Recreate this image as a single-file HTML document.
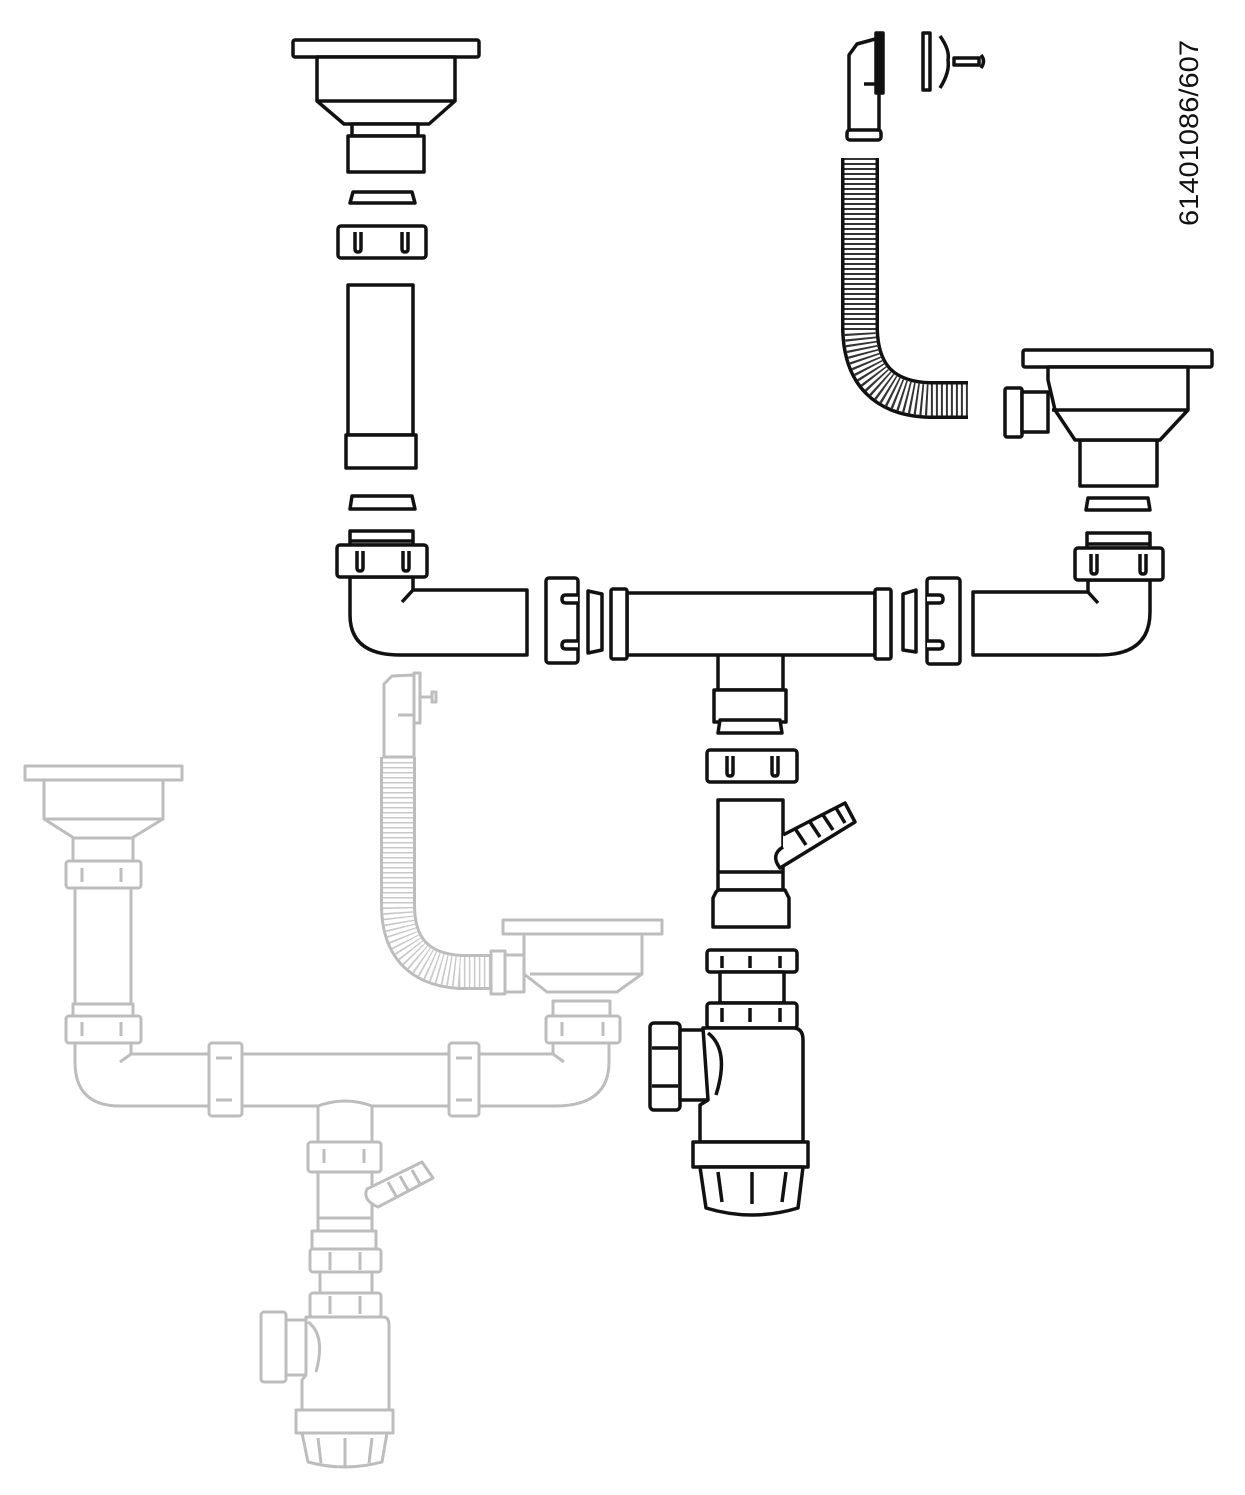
<!DOCTYPE html>
<html><head><meta charset="utf-8"><style>
html,body{margin:0;padding:0;background:#fff;}
svg{display:block;}
</style></head><body>
<svg width="1245" height="1495" viewBox="0 0 1245 1495" xmlns="http://www.w3.org/2000/svg">
<rect width="1245" height="1495" fill="#fff"/>

<!-- ===================== GHOST (gray assembled) ===================== -->
<g fill="#fff" stroke="#bdbdbd" stroke-width="3" stroke-linejoin="round">
  <path d="M398 757 L398 905 Q398 968 460 972 L492 972" fill="none" stroke="#bdbdbd" stroke-width="36"/>
  <path d="M398 757 L398 905 Q398 968 460 972 L492 972" fill="none" stroke="#fff" stroke-width="30"/>
  <path d="M398 757 L398 905 Q398 968 460 972 L492 972" fill="none" stroke="#c8c8c8" stroke-width="30" stroke-dasharray="1.5 3.5"/>
  <path d="M384 757 L384 684 L392 676 L414 675 L414 757 Z"/>
  <rect x="414" y="673" width="6" height="50"/>
  <line x1="420" y1="697" x2="433" y2="697"/>
  <rect x="432" y="692" width="4" height="10"/>
  <line x1="398" y1="715" x2="414" y2="715"/>

  <rect x="25" y="766" width="157" height="14"/>
  <path d="M44 780 L44 819 L74 838 L132 838 L163 819 L163 780 Z"/>
  <line x1="44" y1="819" x2="163" y2="819"/>
  <rect x="73" y="838" width="60" height="23"/>
  <rect x="66" y="861" width="75" height="27" rx="3"/>
  <path d="M82 868 v14 M121 868 v14"/>
  <rect x="75" y="888" width="56" height="116"/>
  <rect x="73" y="1004" width="60" height="12"/>
  <rect x="66" y="1016" width="75" height="27" rx="3"/>
  <path d="M82 1022 v14 M121 1022 v14"/>

  <path d="M75 1043 L75 1062 Q75 1106 120 1106 L555 1106 Q609 1106 609 1062 L609 1043 L553 1043 L553 1054 L131 1054 L131 1043 Z"/>
  <line x1="131" y1="1054" x2="120" y2="1062"/>
  <line x1="553" y1="1054" x2="564" y2="1062"/>
  <rect x="209" y="1043" width="33" height="73" rx="3"/>
  <path d="M216 1058 h16 M216 1100 h16"/>
  <rect x="449" y="1043" width="30" height="73" rx="3"/>
  <path d="M456 1058 h16 M456 1100 h16"/>

  <rect x="491" y="951" width="14" height="43"/>
  <path d="M505 955 L524 955 L524 992 L505 992 Z"/>
  <rect x="503" y="920" width="159" height="14"/>
  <path d="M524 934 L524 974 L547 992 L617 992 L642 974 L642 934 Z"/>
  <line x1="530" y1="974" x2="642" y2="974"/>
  <rect x="553" y="1001" width="57" height="15"/>
  <rect x="546" y="1016" width="74" height="27" rx="3"/>
  <path d="M562 1022 v14 M603 1022 v14"/>

  <path d="M318 1106 L318 1142 L372 1142 L372 1106 Q345 1096 318 1106 Z"/>
  <rect x="308" y="1142" width="73" height="30" rx="3"/>
  <path d="M324 1149 v14 M364 1149 v14"/>
  <rect x="318" y="1172" width="54" height="59"/>
  <line x1="318" y1="1218" x2="372" y2="1218"/>
  <path d="M367 1189 L422 1162 L433 1178 L378 1207 Q362 1200 367 1189 Z"/>
  <path d="M388 1182 l8 14 M400 1176 l8 14 M412 1170 l8 14"/>
  <rect x="312" y="1231" width="64" height="18"/>
  <rect x="310" y="1249" width="71" height="23" rx="3"/>
  <path d="M330 1252 v18 M360 1252 v18"/>
  <rect x="320" y="1272" width="52" height="21"/>
  <rect x="310" y="1293" width="71" height="24" rx="3"/>
  <path d="M330 1296 v18 M360 1296 v18"/>
  <rect x="261" y="1312" width="25" height="70" rx="3"/>
  <rect x="286" y="1320" width="25" height="55"/>
  <path d="M306 1317 L383 1317 Q389 1317 389 1325 L389 1410 L302 1410 L302 1380 L306 1375 Z"/>
  <path d="M308 1322 Q326 1335 316 1372"/>
  <rect x="296" y="1410" width="97" height="23"/>
  <path d="M302 1433 L387 1433 L382 1462 Q345 1472 308 1462 Z"/>
  <path d="M318 1438 l3 25 M345 1438 v28 M372 1438 l-3 25"/>
</g>

<!-- ===================== MAIN (black exploded) ===================== -->
<g fill="#fff" stroke="#111" stroke-width="3.5" stroke-linejoin="round">
  <rect x="293" y="40" width="186" height="17" rx="2"/>
  <path d="M317 57 L317 101 L344 124 L429 124 L455 101 L455 57 Z"/>
  <line x1="317" y1="101" x2="455" y2="101"/>
  <rect x="352" y="124" width="66" height="12"/>
  <rect x="348" y="136" width="76" height="36"/>
  <path d="M353 192 L412 192 L415 203 L350 203 Z"/>
  <rect x="338" y="226" width="88" height="32" rx="3"/>
  <path d="M355 232 v17 q0 3 3 3 q3 0 3 -3 v-17 M402 232 v17 q0 3 3 3 q3 0 3 -3 v-17"/>
  <rect x="348" y="285" width="65" height="150"/>
  <rect x="346" y="435" width="70" height="33"/>
  <path d="M352 496 L412 496 L415 509 L350 509 Z"/>

  <rect x="350" y="531" width="63" height="14"/>
  <line x1="350" y1="541" x2="413" y2="541"/>
  <path d="M350 577 L350 615 Q350 655 400 655 L527 655 L527 590 L413 590 L413 577 Z"/>
  <line x1="413" y1="590" x2="402" y2="602"/>
  <rect x="337" y="545" width="90" height="32" rx="3"/>
  <path d="M357 551 v17 q0 3 3 3 q3 0 3 -3 v-17 M403 551 v17 q0 3 3 3 q3 0 3 -3 v-17"/>

  <rect x="546" y="578" width="32" height="85" rx="3"/>
  <path d="M578 595 h-12 q-4 0 -4 4 q0 4 4 4 h12 M578 641 h-12 q-4 0 -4 4 q0 4 4 4 h12"/>
  <path d="M588 591 L602 594 L602 650 L588 653 Z"/>

  <path d="M718 655 L718 690 L783 690 L783 655 Q750 640 718 655 Z"/>
  <rect x="627" y="593" width="248" height="62"/>
  <rect x="611" y="589" width="16" height="70" rx="2"/>
  <rect x="875" y="589" width="16" height="70" rx="2"/>
  <rect x="714" y="690" width="72" height="32"/>

  <path d="M903 594 L916 590 L916 652 L903 650 Z"/>
  <rect x="927" y="578" width="33" height="86" rx="3"/>
  <path d="M927 595 h12 q4 0 4 4 q0 4 -4 4 h-12 M927 641 h12 q4 0 4 4 q0 4 -4 4 h-12"/>

  <rect x="1087" y="533" width="63" height="15"/>
  <line x1="1087" y1="544" x2="1150" y2="544"/>
  <path d="M1150 580 L1150 612 Q1150 655 1100 655 L973 655 L973 592 L1088 592 L1088 580 Z"/>
  <line x1="1088" y1="592" x2="1098" y2="603"/>
  <rect x="1075" y="548" width="88" height="32" rx="3"/>
  <path d="M1091 554 v17 q0 3 3 3 q3 0 3 -3 v-17 M1140 554 v17 q0 3 3 3 q3 0 3 -3 v-17"/>

  <path d="M1088 498 L1148 498 L1150 510 L1086 510 Z"/>
  <rect x="1080" y="440" width="77" height="46"/>
  <rect x="1005" y="388" width="17" height="49" rx="2"/>
  <path d="M1022 392 L1048 392 L1048 432 L1022 432 Z"/>
  <rect x="1023" y="350" width="189" height="17" rx="2"/>
  <path d="M1048 367 L1048 380 L1055 410 L1075 440 L1160 440 L1188 410 L1188 367 Z"/>
  <line x1="1052" y1="410" x2="1188" y2="410"/>

  <path d="M849 137 L849 55 L857 44 L879 38 L879 137 Z"/>
  <rect x="847" y="130" width="34" height="10" rx="3"/>
  <rect x="876" y="33" width="7" height="60" fill="#111"/>
  <line x1="864" y1="84" x2="879" y2="84"/>
  <rect x="923" y="33" width="7" height="57"/>
  <path d="M940 36 Q950 50 948 60 Q950 72 940 88" fill="none"/>
  <rect x="954" y="58" width="25" height="7"/>
  <path d="M981 55 Q986 61 981 68" fill="none"/>

  <path d="M860 158 L860 330 Q862 398 930 400 L968 400" fill="none" stroke="#111" stroke-width="38" stroke-linejoin="round"/>
  <path d="M860 158 L860 330 Q862 398 930 400 L968 400" fill="none" stroke="#fff" stroke-width="31"/>
  <path d="M860 158 L860 330 Q862 398 930 400 L968 400" fill="none" stroke="#333" stroke-width="31" stroke-dasharray="2 3"/>

  <path d="M720 720 L780 720 L782 733 L718 733 Z"/>
  <rect x="707" y="750" width="90" height="32" rx="3"/>
  <path d="M727 756 v17 q0 3 3 3 q3 0 3 -3 v-17 M772 756 v17 q0 3 3 3 q3 0 3 -3 v-17"/>
  <path d="M718 800 L783 800 L783 890 L718 890 Z"/>
  <line x1="718" y1="872" x2="783" y2="872"/>
  <path d="M783 847 Q770 855 780 868 L855 822 L845 803 L783 835"/>
  <path d="M796 830 l10 15 M810 822 l10 15 M823 815 l10 15 M836 808 l9 15"/>
  <path d="M718 890 L716 892 L713 898 L713 927 L789 927 L789 898 L785 890 Z"/>
  <rect x="707" y="950" width="90" height="22" rx="3"/>
  <path d="M722 956 v12 M750 956 v12 M780 956 v12"/>
  <rect x="720" y="972" width="64" height="31"/>
  <rect x="707" y="1003" width="90" height="25" rx="3"/>
  <path d="M722 1008 v14 M750 1008 v14 M780 1008 v14"/>
  <rect x="650" y="1023" width="30" height="87" rx="4"/>
  <path d="M652 1048 h26 M652 1086 h26"/>
  <rect x="680" y="1030" width="30" height="70"/>
  <path d="M703 1028 L793 1028 Q803 1028 803 1040 L803 1142 L700 1142 L700 1105 L708 1100 Z"/>
  <path d="M708 1033 Q730 1050 716 1095" fill="none"/>
  <rect x="693" y="1142" width="115" height="25"/>
  <path d="M700 1167 L803 1167 L798 1208 Q752 1222 706 1208 Z"/>
  <path d="M718 1172 l4 30 M752 1172 v32 M786 1172 l-4 30"/>
</g>

<text transform="translate(1198,226) rotate(-90)" font-family="Liberation Sans, sans-serif" font-size="27" fill="#111" textLength="186" lengthAdjust="spacingAndGlyphs">61401086/607</text>
</svg>
</body></html>
